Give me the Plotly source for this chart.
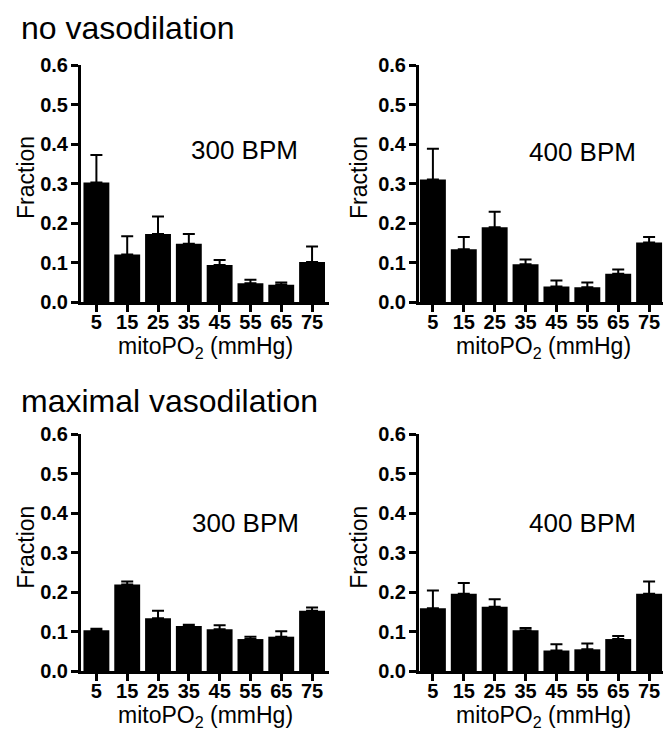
import plotly.graph_objects as go

categories = ["5", "15", "25", "35", "45", "55", "65", "75"]

nv300_mean = [0.303, 0.121, 0.173, 0.148, 0.094, 0.048, 0.044, 0.102]
nv300_err = [0.070, 0.046, 0.044, 0.025, 0.013, 0.009, 0.006, 0.039]
nv400_mean = [0.311, 0.134, 0.190, 0.096, 0.040, 0.038, 0.072, 0.151]
nv400_err = [0.078, 0.031, 0.039, 0.012, 0.015, 0.012, 0.011, 0.014]
mv300_mean = [0.103, 0.219, 0.134, 0.114, 0.106, 0.081, 0.087, 0.153]
mv300_err = [0.004, 0.008, 0.019, 0.003, 0.010, 0.006, 0.014, 0.008]
mv400_mean = [0.159, 0.196, 0.163, 0.103, 0.052, 0.055, 0.081, 0.196]
mv400_err = [0.045, 0.027, 0.019, 0.006, 0.016, 0.015, 0.008, 0.031]

panel_labels = ["300 BPM", "400 BPM", "300 BPM", "400 BPM"]
row_titles = ["no vasodilation", "maximal vasodilation"]
y_ticks = [0.0, 0.1, 0.2, 0.3, 0.4, 0.5, 0.6]

W, H = 665, 749
FONT = "Arial, Liberation Sans, Helvetica, sans-serif"

def px_x(p):
    return p / W

def px_y(p):
    return 1 - p / H

panels = [
    (nv300_mean, nv300_err, "x", "y"),
    (nv400_mean, nv400_err, "x2", "y2"),
    (mv300_mean, mv300_err, "x3", "y3"),
    (mv400_mean, mv400_err, "x4", "y4"),
]

fig = go.Figure()
for mean, err, xa, ya in panels:
    fig.add_trace(go.Bar(
        x=categories, y=mean, xaxis=xa, yaxis=ya,
        width=0.84,
        marker=dict(color="black", line=dict(width=0)),
        error_y=dict(type="data", array=err, arrayminus=[0] * len(err),
                     symmetric=False, color="black", thickness=2, width=6),
        showlegend=False,
    ))

# layout geometry (pixels)
x_domains = [(81, 329), (419, 663), (81, 329), (419, 663)]
x_ranges = [[-0.5, 7.55], [-0.45, 7.45], [-0.5, 7.55], [-0.45, 7.45]]
y_domains = [(56, 300), (56, 300), (436, 680), (436, 680)]

layout = dict(
    width=W, height=H,
    margin=dict(l=0, r=0, t=0, b=0),
    paper_bgcolor="white", plot_bgcolor="white",
    font=dict(family=FONT, color="black"),
)

for i in range(4):
    sx = "" if i == 0 else str(i + 1)
    layout["xaxis" + sx] = dict(
        domain=[px_x(x_domains[i][0]), px_x(x_domains[i][1])],
        anchor="y" + sx,
        type="category",
        range=x_ranges[i],
        showline=True, linecolor="black", linewidth=3,
        ticks="outside", ticklen=7, tickwidth=2.5, tickcolor="black",
        ticklabelstandoff=-7,
        tickfont=dict(family=FONT, size=20, color="black", weight="bold"),
        showgrid=False, zeroline=False,
    )
    layout["yaxis" + sx] = dict(
        domain=[px_y(y_domains[i][1]), px_y(y_domains[i][0])],
        anchor="x" + sx,
        range=[0, 0.6],
        tickvals=y_ticks,
        tickformat=".1f",
        showline=True, linecolor="black", linewidth=3,
        ticks="outside", ticklen=7, tickwidth=2.5, tickcolor="black",
        ticklabelstandoff=-1,
        tickfont=dict(family=FONT, size=20, color="black", weight="bold"),
        showgrid=False, zeroline=False,
    )

annotations = []
# row titles
for t, yp in zip(row_titles, [17, 402]):
    annotations.append(dict(
        text=t, xref="paper", yref="paper", x=px_x(19), y=px_y(yp),
        xanchor="left", yanchor="middle", showarrow=False,
        font=dict(family=FONT, size=32, color="black"),
    ))

# BPM labels
bpm_pos = [(244, 143), (582, 145), (245, 527), (582, 527)]
for lab, (bx, by) in zip(panel_labels, bpm_pos):
    annotations.append(dict(
        text=lab, xref="paper", yref="paper", x=px_x(bx), y=px_y(by),
        xanchor="center", yanchor="middle", showarrow=False,
        font=dict(family=FONT, size=26, color="black"),
    ))

# axis titles
ytitle_pos = [(26, 172), (359, 172), (26, 553), (359, 553)]
xtitle_pos = [(205, 347), (543, 347), (205, 727), (543, 727)]
for (tx, ty) in ytitle_pos:
    annotations.append(dict(
        text="Fraction", xref="paper", yref="paper", x=px_x(tx), y=px_y(ty),
        xanchor="center", yanchor="middle", showarrow=False, textangle=-90,
        font=dict(family=FONT, size=23, color="black"),
    ))
for (tx, ty) in xtitle_pos:
    annotations.append(dict(
        text="mitoPO<sub>2</sub> (mmHg)", xref="paper", yref="paper",
        x=px_x(tx), y=px_y(ty),
        xanchor="center", yanchor="middle", showarrow=False,
        font=dict(family=FONT, size=23, color="black"),
    ))

layout["annotations"] = annotations
fig.update_layout(**layout)
fig.write_html("out.html")
